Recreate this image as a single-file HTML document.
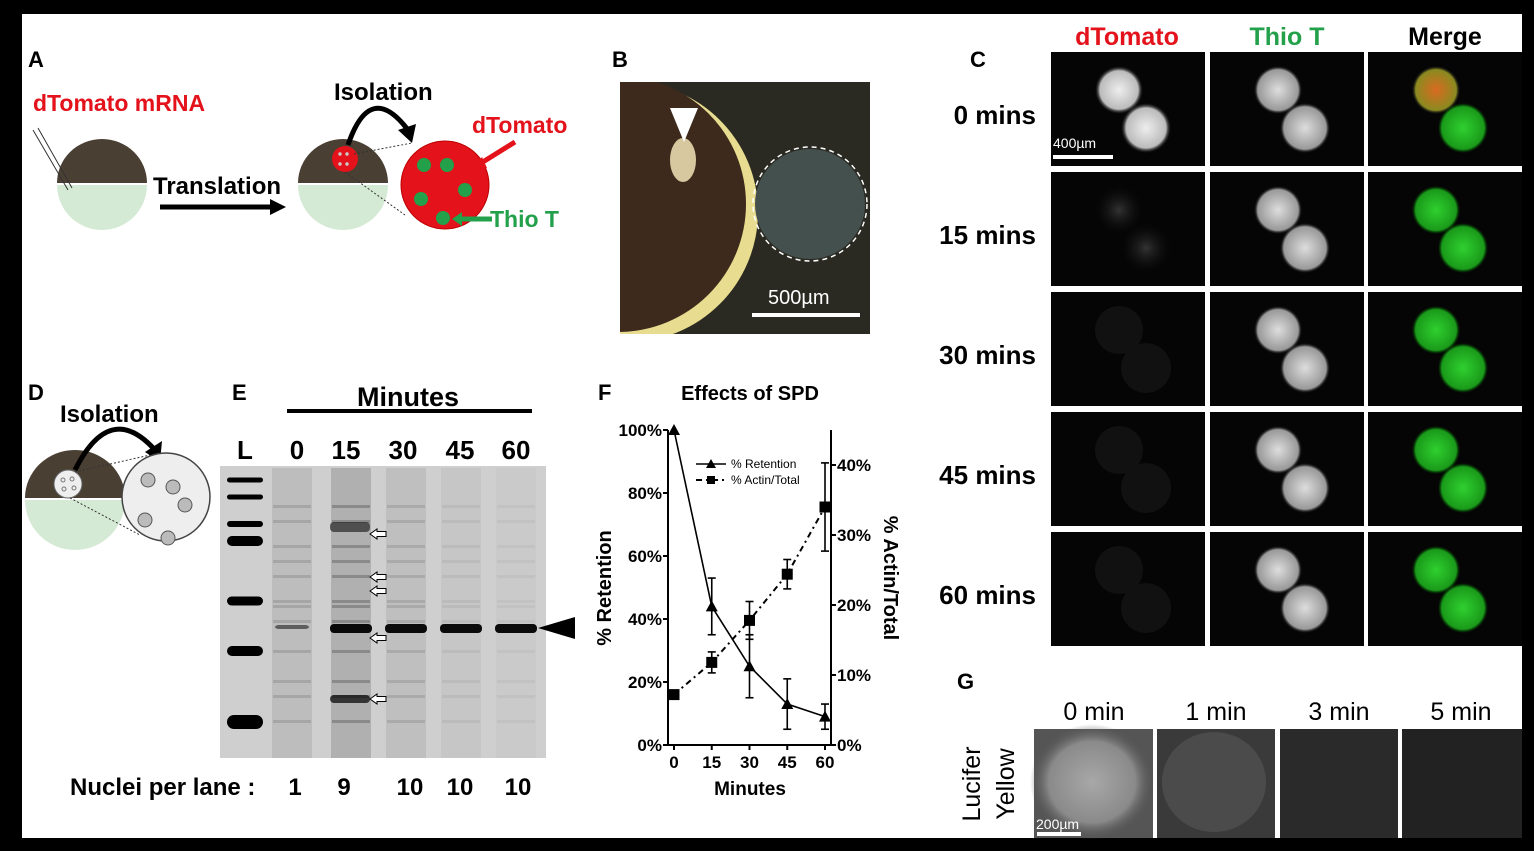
<!DOCTYPE html>
<html><head><meta charset="utf-8"><style>
html,body{margin:0;padding:0;background:#000;}
svg{display:block;font-family:"Liberation Sans",Arial,sans-serif;}
.b{font-weight:bold;}
</style></head><body>
<svg id="fig" width="1534" height="851" viewBox="0 0 1534 851" xmlns="http://www.w3.org/2000/svg">
<defs>
<radialGradient id="gw" cx="50%" cy="50%" r="50%"><stop offset="0" stop-color="#eee"/><stop offset="0.8" stop-color="#bbb"/><stop offset="1" stop-color="#222" stop-opacity="0"/></radialGradient>
<radialGradient id="gd" cx="50%" cy="50%" r="50%"><stop offset="0" stop-color="#333"/><stop offset="1" stop-color="#111" stop-opacity="0"/></radialGradient>
<radialGradient id="gg" cx="50%" cy="50%" r="50%"><stop offset="0" stop-color="#2fd02f"/><stop offset="0.85" stop-color="#1a9a1a"/><stop offset="1" stop-color="#050" stop-opacity="0"/></radialGradient>
<radialGradient id="gs" cx="50%" cy="50%" r="50%"><stop offset="0" stop-color="#ddd"/><stop offset="0.85" stop-color="#999"/><stop offset="1" stop-color="#222" stop-opacity="0"/></radialGradient>
<radialGradient id="go" cx="50%" cy="50%" r="50%"><stop offset="0" stop-color="#d96a20"/><stop offset="0.85" stop-color="#8a8a20"/><stop offset="1" stop-color="#222" stop-opacity="0"/></radialGradient>
<radialGradient id="gl" cx="50%" cy="50%" r="50%"><stop offset="0" stop-color="#a8a8a8"/><stop offset="0.7" stop-color="#8a8a8a"/><stop offset="1" stop-color="#555" stop-opacity="0"/></radialGradient>
<clipPath id="cb"><rect x="620" y="82" width="250" height="252"/></clipPath>
</defs>
<rect x="22" y="14" width="1500" height="824" fill="#fff"/>

<!-- Panel A -->
<g>
<text x="28" y="67" class="b" font-size="22">A</text>
<text x="33" y="111" class="b" font-size="23" fill="#e3121b">dTomato mRNA</text>
<path d="M57 185 a45 45 0 0 0 90 0z" fill="#d5ead5"/>
<path d="M57 183 a45 44 0 0 1 90 0z" fill="#4a3f33"/>
<path d="M33 130 L68 190 M38 128 L72 188" stroke="#333" stroke-width="1"/>
<text x="153" y="194" class="b" font-size="24">Translation</text>
<path d="M160 207 H272" stroke="#000" stroke-width="5"/><path d="M270 199 L286 207 L270 215z" fill="#000"/>
<path d="M298 185 a45 45 0 0 0 90 0z" fill="#d5ead5"/>
<path d="M298 183 a45 44 0 0 1 90 0z" fill="#4a3f33"/>
<circle cx="345" cy="159" r="13" fill="#e3121b"/>
<g fill="#ccc"><circle cx="340" cy="154" r="1.7"/><circle cx="347" cy="154" r="1.7"/><circle cx="340" cy="164" r="1.7"/><circle cx="347" cy="164" r="1.7"/></g>
<path d="M354 154 L412 143 M345 172 L405 215" stroke="#333" stroke-dasharray="2 2"/>
<path d="M348 145 Q 370 80 408 130" fill="none" stroke="#000" stroke-width="5"/><path d="M398 130 L412 143 L416 124z" fill="#000"/>
<text x="334" y="100" class="b" font-size="24">Isolation</text>
<circle cx="445" cy="185" r="44" fill="#e3121b" stroke="#b00"/>
<g fill="#22a04a"><circle cx="424" cy="165" r="7"/><circle cx="447" cy="165" r="7"/><circle cx="465" cy="190" r="7"/><circle cx="421" cy="199" r="7"/><circle cx="443" cy="218" r="7"/></g>
<text x="472" y="133" class="b" font-size="23" fill="#e3121b">dTomato</text>
<path d="M515 142 L478 165" stroke="#e3121b" stroke-width="5"/><path d="M470 170 L482 157 L487 168z" fill="#e3121b"/>
<text x="490" y="227" class="b" font-size="23" fill="#22a04a">Thio T</text>
<path d="M492 219 H460" stroke="#22a04a" stroke-width="5"/><path d="M452 219 L462 212 L462 226z" fill="#22a04a"/>
</g>

<!-- Panel B -->
<g>
<text x="612" y="67" class="b" font-size="22">B</text>
<rect x="620" y="82" width="250" height="252" fill="#2a2a22"/>
<g clip-path="url(#cb)">
<circle cx="628" cy="212" r="130" fill="#e8dc90"/>
<circle cx="618" cy="204" r="128" fill="#3e2a1c"/>
<ellipse cx="683" cy="160" rx="13" ry="22" fill="#d8c8a0"/>
<circle cx="810" cy="204" r="55" fill="#44504e"/>
</g>
<path d="M683 108 L670 108 L684 142 L698 108z" fill="#fff"/>
<circle cx="810" cy="204" r="57" fill="none" stroke="#fff" stroke-width="1.5" stroke-dasharray="5 4"/>
<text x="768" y="304" font-size="20" fill="#fff">500µm</text>
<rect x="752" y="313" width="108" height="4" fill="#fff"/>
</g>

<!-- Panel C -->
<g>
<text x="970" y="67" class="b" font-size="22">C</text>
<text x="1127" y="45" text-anchor="middle" class="b" font-size="25" fill="#e3121b">dTomato</text>
<text x="1287" y="45" text-anchor="middle" class="b" font-size="25" fill="#22a04a">Thio T</text>
<text x="1445" y="45" text-anchor="middle" class="b" font-size="25">Merge</text>
<g id="cgrid"></g>
</g>

<!-- Panel D -->
<g>
<text x="28" y="400" class="b" font-size="22">D</text>
<text x="60" y="422" class="b" font-size="24">Isolation</text>
<path d="M25 500 a50 50 0 0 0 100 0z" fill="#d5ead5"/>
<path d="M25 498 a50 48 0 0 1 100 0z" fill="#4a3f33"/>
<circle cx="68" cy="484" r="14" fill="#eee" stroke="#666"/>
<g fill="none" stroke="#777"><circle cx="63" cy="480" r="2"/><circle cx="72" cy="479" r="2"/><circle cx="64" cy="489" r="2"/><circle cx="74" cy="488" r="2"/></g>
<path d="M75 472 L150 455 M70 498 L140 535" stroke="#333" stroke-dasharray="2 2"/>
<path d="M75 470 Q 110 400 155 450" fill="none" stroke="#000" stroke-width="5"/><path d="M145 452 L160 462 L162 441z" fill="#000"/>
<circle cx="166" cy="497" r="44" fill="#eee" stroke="#444" stroke-width="1.5"/>
<g fill="#bbb" stroke="#555"><circle cx="148" cy="480" r="7"/><circle cx="173" cy="487" r="7"/><circle cx="145" cy="520" r="7"/><circle cx="185" cy="505" r="7"/><circle cx="168" cy="538" r="7"/></g>
</g>

<!-- Panel E -->
<g>
<text x="232" y="400" class="b" font-size="22">E</text>
<text x="408" y="406" text-anchor="middle" class="b" font-size="27">Minutes</text>
<rect x="287" y="409" width="245" height="4" fill="#000"/>
<g class="b" font-size="26" text-anchor="middle">
<text x="245" y="459">L</text>
<text x="297" y="459">0</text>
<text x="346" y="459">15</text>
<text x="403" y="459">30</text>
<text x="460" y="459">45</text>
<text x="516" y="459">60</text>
</g>
<rect x="220" y="466" width="326" height="292" fill="#cfcfcf"/>
<g id="gel"></g>
<path d="M538 628 L575 617 L575 639z" fill="#000"/>
<g class="b" font-size="24">
<text x="70" y="795">Nuclei per lane :</text>
<text x="295" y="795" text-anchor="middle">1</text><text x="344" y="795" text-anchor="middle">9</text>
<text x="410" y="795" text-anchor="middle">10</text><text x="460" y="795" text-anchor="middle">10</text><text x="518" y="795" text-anchor="middle">10</text>
</g>
</g>

<!-- Panel F chart -->
<g>
<text x="598" y="400" class="b" font-size="22">F</text>
<text x="750" y="400" text-anchor="middle" class="b" font-size="20">Effects of SPD</text>
<g id="chart"></g>
</g>

<!-- Panel G -->
<g>
<text x="957" y="689" class="b" font-size="22">G</text>
<g font-size="25" text-anchor="middle">
<text x="1094" y="720">0 min</text>
<text x="1216" y="720">1 min</text>
<text x="1339" y="720">3 min</text>
<text x="1461" y="720">5 min</text>
</g>
<text transform="translate(980,784) rotate(-90)" text-anchor="middle" font-size="25">Lucifer</text>
<text transform="translate(1014,784) rotate(-90)" text-anchor="middle" font-size="25">Yellow</text>
<rect x="1034" y="729" width="119" height="109" fill="#555"/><ellipse cx="1092" cy="782" rx="62" ry="58" fill="url(#gl)"/>
<rect x="1157" y="729" width="118" height="109" fill="#3a3a3a"/><ellipse cx="1214" cy="782" rx="52" ry="50" fill="#505050" opacity="0.8"/>
<rect x="1280" y="729" width="118" height="109" fill="#2a2a2a"/>
<rect x="1402" y="729" width="120" height="109" fill="#222"/>
<text x="1036" y="829" font-size="14" fill="#fff">200µm</text>
<rect x="1037" y="832" width="44" height="4" fill="#fff"/>
</g>
</svg>
<script>
// ---- Panel F data ----
const minutes = [0, 15, 30, 45, 60];
const retention = [100, 44, 25, 13, 9];
const retentionErr = [0, 9, 10, 8, 4];
const actinTotal = [7.2, 11.8, 17.8, 24.4, 34];
const actinErr = [0, 1.5, 2.7, 2.1, 6.3];
const leftTicks = [0, 20, 40, 60, 80, 100];
const rightTicks = [0, 10, 20, 30, 40];
const xTicks = [0, 15, 30, 45, 60];

const NS = 'http://www.w3.org/2000/svg';
function mk(tag, attrs, parent, text) {
  const e = document.createElementNS(NS, tag);
  for (const k in attrs) e.setAttribute(k, attrs[k]);
  if (text !== undefined) e.textContent = text;
  parent.appendChild(e);
  return e;
}
const X0 = 674, X1 = 825, YB = 745, YT = 430, AXL = 668, AXR = 831;
const xs = v => X0 + (v - 0) / 60 * (X1 - X0);
const yl = v => YB - v / 100 * (YB - YT);
const yr = v => YB - v / 45 * (YB - YT);
const ch = document.getElementById('chart');
let a = mk('line', {x1: AXL, y1: YT, x2: AXL, y2: YB, stroke: '#000', 'stroke-width': 2}, ch);


a = mk('line', {x1: AXR, y1: YT, x2: AXR, y2: YB, stroke: '#000', 'stroke-width': 2}, ch);


a = mk('line', {x1: AXL, y1: YB, x2: AXR, y2: YB, stroke: '#000', 'stroke-width': 2}, ch);


leftTicks.forEach(t => {
  mk('line', {x1: AXL - 5, y1: yl(t), x2: AXL, y2: yl(t), stroke: '#000', 'stroke-width': 2}, ch);
  const tx = mk('text', {x: AXL - 6, y: yl(t) + 6, 'text-anchor': 'end', 'font-size': 17, 'font-weight': 'bold'}, ch, t + '%');
  
  
});
rightTicks.forEach(t => {
  mk('line', {x1: AXR, y1: yr(t), x2: AXR + 5, y2: yr(t), stroke: '#000', 'stroke-width': 2}, ch);
  const tx = mk('text', {x: AXR + 6, y: yr(t) + 6, 'font-size': 17, 'font-weight': 'bold'}, ch, t + '%');
  
  
});
xTicks.forEach(t => {
  mk('line', {x1: xs(t), y1: YB, x2: xs(t), y2: YB + 5, stroke: '#000', 'stroke-width': 2}, ch);
  const tx = mk('text', {x: xs(t), y: YB + 23, 'text-anchor': 'middle', 'font-size': 17, 'font-weight': 'bold'}, ch, t);
  
  
});
let t = mk('text', {x: 750, y: 795, 'text-anchor': 'middle', 'font-size': 19, 'font-weight': 'bold'}, ch, 'Minutes');


t = mk('text', {transform: 'translate(611,588) rotate(-90)', 'text-anchor': 'middle', 'font-size': 20, 'font-weight': 'bold'}, ch, '% Retention');


t = mk('text', {transform: 'translate(884,578) rotate(90)', 'text-anchor': 'middle', 'font-size': 20, 'font-weight': 'bold'}, ch, '% Actin/Total');


let p = mk('polyline', {points: minutes.map((m, i) => xs(m) + ',' + yl(retention[i])).join(' '), fill: 'none', stroke: '#000', 'stroke-width': 1.6}, ch);


p = mk('polyline', {points: minutes.map((m, i) => xs(m) + ',' + yr(actinTotal[i])).join(' '), fill: 'none', stroke: '#000', 'stroke-width': 2, 'stroke-dasharray': '6 4 2 4'}, ch);


function errbar(x, y1, y2) {
  mk('line', {x1: x, y1: y1, x2: x, y2: y2, stroke: '#000', 'stroke-width': 1.6}, ch);
  mk('line', {x1: x - 4, y1: y1, x2: x + 4, y2: y1, stroke: '#000', 'stroke-width': 1.6}, ch);
  mk('line', {x1: x - 4, y1: y2, x2: x + 4, y2: y2, stroke: '#000', 'stroke-width': 1.6}, ch);
}
minutes.forEach((m, i) => {
  const x = xs(m);
  if (retentionErr[i] > 0) errbar(x, yl(retention[i] + retentionErr[i]), yl(retention[i] - retentionErr[i]));
  if (actinErr[i] > 0) errbar(x, yr(actinTotal[i] + actinErr[i]), yr(actinTotal[i] - actinErr[i]));
  const y = yl(retention[i]);
  const tri = mk('path', {d: `M${x} ${y - 6} L${x + 6} ${y + 5} L${x - 6} ${y + 5}Z`, fill: '#000'}, ch);
  
  
  const ya = yr(actinTotal[i]);
  const sq = mk('rect', {x: x - 5.5, y: ya - 5.5, width: 11, height: 11, fill: '#000'}, ch);
  
  
});
mk('line', {x1: 696, y1: 464, x2: 726, y2: 464, stroke: '#000', 'stroke-width': 1.6}, ch);
mk('path', {d: 'M711 459 L716 468 L706 468Z', fill: '#000'}, ch);
t = mk('text', {x: 731, y: 468, 'font-size': 12}, ch, '% Retention');


mk('line', {x1: 696, y1: 480, x2: 726, y2: 480, stroke: '#000', 'stroke-width': 2, 'stroke-dasharray': '6 4 2 4'}, ch);
mk('rect', {x: 707, y: 476, width: 8, height: 8, fill: '#000'}, ch);
t = mk('text', {x: 731, y: 484, 'font-size': 12}, ch, '% Actin/Total');



// ---- Panel C grid ----
const cg = document.getElementById('cgrid');
const rowLabels = ['0 mins', '15 mins', '30 mins', '45 mins', '60 mins'];
const colX = [1051, 1210, 1368];
rowLabels.forEach((lab, r) => {
  const y0 = 52 + r * 120;
  const l = mk('text', {x: 1036, y: y0 + 72, 'text-anchor': 'end', 'font-size': 26, 'font-weight': 'bold'}, cg, lab);
  
  
  colX.forEach((x, c) => {
    const im = mk('rect', {x: x, y: y0, width: 154, height: 114, fill: '#050505'}, cg);
    
    
    let fill1, fill2;
    if (c === 0) { fill1 = r === 0 ? 'url(#gw)' : 'url(#gd)'; fill2 = fill1; if (r > 1) { fill1 = '#111'; fill2 = '#111'; } }
    else if (c === 1) { fill1 = 'url(#gs)'; fill2 = 'url(#gs)'; }
    else { fill1 = r === 0 ? 'url(#go)' : 'url(#gg)'; fill2 = 'url(#gg)'; }
    mk('circle', {cx: x + 68, cy: y0 + 38, r: 24, fill: fill1}, cg);
    mk('circle', {cx: x + 95, cy: y0 + 76, r: 25, fill: fill2}, cg);
  });
});
mk('text', {x: 1053, y: 148, 'font-size': 14, fill: '#fff'}, cg, '400µm');
mk('rect', {x: 1053, y: 155, width: 60, height: 4, fill: '#fff'}, cg);

// ---- Gel ----
const gel = document.getElementById('gel');
const lanes = [292, 351, 406, 461, 516];
const laneDark = [0.35, 0.6, 0.3, 0.15, 0.1];
lanes.forEach((x, i) => {
  const ln = mk('rect', {x: x - 20, y: 468, width: 40, height: 290, fill: '#000', opacity: laneDark[i] * 0.25}, gel);
  
  
  [505, 520, 545, 560, 575, 600, 605, 620, 650, 680, 695, 720].forEach(y => {
    mk('rect', {x: x - 19, y: y, width: 38, height: 3, fill: '#000', opacity: laneDark[i] * 0.35}, gel);
  });
  mk('rect', {x: x - (i === 0 ? 17 : 21), y: 624 + (i === 0 ? 1 : 0), width: i === 0 ? 34 : 42, height: i === 0 ? 4 : 9, rx: 4, fill: '#000', opacity: i === 0 ? 0.5 : 0.95}, gel);
});
mk('rect', {x: 330, y: 522, width: 40, height: 10, rx: 4, fill: '#000', opacity: 0.55}, gel);
mk('rect', {x: 330, y: 695, width: 40, height: 8, rx: 4, fill: '#000', opacity: 0.7}, gel);
[480, 497, 524, 541, 601, 651, 722].forEach((y, k) => {
  const h = [5, 5, 6, 10, 9, 10, 14][k];
  const b = mk('rect', {x: 227, y: y - h / 2, width: 36, height: h, rx: h / 2, fill: '#000'}, gel);
  
  
});
[534, 577, 591, 638, 699].forEach(y => {
  const ar = mk('path', {d: `M370 ${y} L377 ${y - 5} L377 ${y - 2.5} L386 ${y - 2.5} L386 ${y + 2.5} L377 ${y + 2.5} L377 ${y + 5}Z`, fill: '#fff', stroke: '#000', 'stroke-width': 1}, gel);
  
  
});
</script>
</body></html>
